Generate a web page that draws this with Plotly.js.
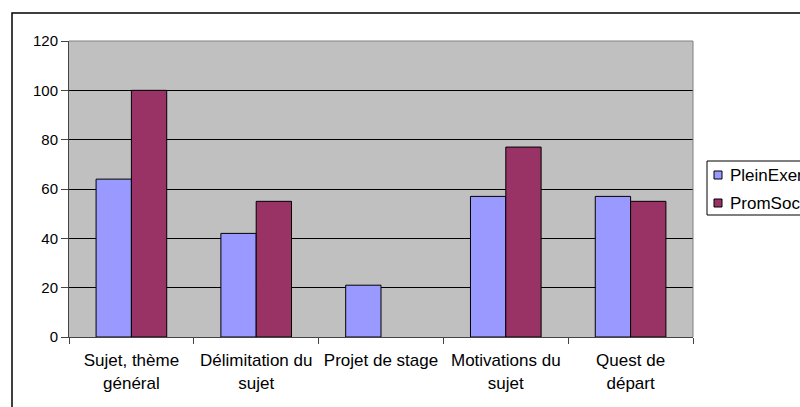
<!DOCTYPE html>
<html>
<head>
<meta charset="utf-8">
<script src="https://cdn.plot.ly/plotly-3.0.1.min.js"></script>
<style>
  html, body { margin: 0; padding: 0; background: #fff; overflow: hidden; width: 800px; height: 407px; }
  #wrap { width: 800px; height: 407px; overflow: hidden; position: relative; }
  #chart { width: 900px; height: 407px; position: absolute; left: 0; top: 0; }
</style>
</head>
<body>
<div id="wrap"><div id="chart"></div></div>
<script>
const categories = [
  "Sujet, thème<br>général",
  "Délimitation du<br>sujet",
  "Projet de stage",
  "Motivations du<br>sujet",
  "Quest de<br>départ"
];
const pleinExer = [64, 42, 21, 57, 57];
const promSoc = [100, 55, 0, 77, 55];
const seriesNames = ["PleinExer", "PromSoc"];
const seriesColors = ["#9999FF", "#993366"];
const yTicks = [0, 20, 40, 60, 80, 100, 120];

const font = "Liberation Sans";

// layout geometry (pixels)
const W = 900, H = 407;
const M = { l: 69, r: 207, t: 41, b: 70 };
const plotW = W - M.l - M.r, plotH = H - M.t - M.b;
const px = v => (v - M.l) / plotW;          // pixel x -> paper x
const py = v => (H - M.b - v) / plotH;      // pixel y -> paper y

const traces = [
  {
    type: "bar", name: seriesNames[0], x: categories, y: pleinExer,
    marker: { color: seriesColors[0], line: { color: "#000000", width: pleinExer.map(v => v === 0 ? 0 : 1) } }
  },
  {
    type: "bar", name: seriesNames[1], x: categories, y: promSoc,
    marker: { color: seriesColors[1], line: { color: "#000000", width: promSoc.map(v => v === 0 ? 0 : 1) } }
  }
];

// manual legend (the reference legend runs past the right edge of the image)
const legendRows = [175, 203];
const legendShapes = [
  { type: "rect", xref: "paper", yref: "paper", x0: px(707), x1: px(1000), y0: py(215), y1: py(161),
    line: { color: "#000000", width: 1 }, fillcolor: "#ffffff" }
];
const legendAnn = [];
seriesNames.forEach((n, i) => {
  const cy = legendRows[i];
  legendShapes.push({ type: "rect", xref: "paper", yref: "paper",
    x0: px(714), x1: px(722), y0: py(cy + 4), y1: py(cy - 4),
    line: { color: "#000000", width: 1 }, fillcolor: seriesColors[i] });
  legendAnn.push({ xref: "paper", yref: "paper", x: px(728), y: py(cy),
    xanchor: "left", yanchor: "middle", showarrow: false, text: n,
    font: { family: font, size: 17, color: "#000000" } });
});

const layout = {
  width: W, height: H,
  margin: { l: M.l, r: M.r, t: M.t, b: M.b, pad: 0 },
  paper_bgcolor: "#ffffff",
  plot_bgcolor: "#C0C0C0",
  barmode: "group",
  bargap: 0.434,
  bargroupgap: 0,
  font: { family: font, color: "#000000", size: 15 },
  showlegend: false,
  xaxis: {
    type: "category",
    tickson: "boundaries",
    tickangle: 0,
    ticks: "outside", ticklen: 6, tickcolor: "#444444", tickwidth: 1,
    ticklabelstandoff: 8,
    showline: true, linecolor: "#444444", linewidth: 1, mirror: false,
    showgrid: false,
    tickfont: { family: font, size: 17, color: "#000000" },
    automargin: false
  },
  yaxis: {
    range: [0, 120],
    tickvals: yTicks,
    ticks: "outside", ticklen: 7, tickcolor: "#444444", tickwidth: 1,
    showline: true, linecolor: "#444444", linewidth: 1, mirror: false,
    showgrid: true, gridcolor: "#000000", gridwidth: 1,
    zeroline: false,
    tickfont: { family: font, size: 15, color: "#000000" },
    automargin: false
  },
  shapes: [
    { type: "line", xref: "paper", yref: "paper", x0: 0, x1: 1, y0: 1, y1: 1,
      line: { color: "#808080", width: 1 } },
    { type: "line", xref: "paper", yref: "paper", x0: 1, x1: 1, y0: 0, y1: 1,
      line: { color: "#808080", width: 1 } },
    { type: "rect", xref: "paper", yref: "paper", x0: px(12), x1: px(1200), y0: py(600), y1: py(13),
      line: { color: "#000000", width: 1.5 }, fillcolor: "rgba(0,0,0,0)", layer: "below" }
  ].concat(legendShapes),
  annotations: legendAnn
};

Plotly.newPlot("chart", traces, layout, { staticPlot: true, displayModeBar: false });
</script>
</body>
</html>
